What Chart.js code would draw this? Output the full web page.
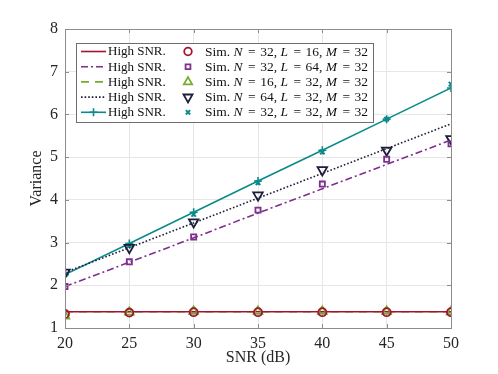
<!DOCTYPE html>
<html>
<head>
<meta charset="utf-8">
<script src="https://cdn.jsdelivr.net/npm/chart.js@4.4.0/dist/chart.umd.min.js"></script>
<style>
html, body { margin: 0; padding: 0; background: #fff; }
#wrap { width: 498px; height: 374px; }
</style>
</head>
<body>
<div id="wrap"><canvas id="chart" width="498" height="374"></canvas></div>
<script>
// eje x y marcas del eje y
const snr = [20, 25, 30, 35, 40, 45, 50];
const yTicks = [1, 2, 3, 4, 5, 6, 7, 8];

// curvas High SNR
const highN32L16 = [1.38, 1.38, 1.38, 1.38, 1.38, 1.38, 1.38];
const highN32L64 = [1.97, 2.54, 3.11, 3.69, 4.26, 4.83, 5.40];
const highN16L32 = [1.38, 1.38, 1.38, 1.38, 1.38, 1.38, 1.38];
const highN64L32 = [2.30, 2.88, 3.46, 4.04, 4.62, 5.20, 5.78];
const highN32L32 = [2.25, 2.98, 3.71, 4.44, 5.16, 5.89, 6.62];

// simulaciones
const simN32L16 = [1.33, 1.36, 1.37, 1.37, 1.37, 1.37, 1.37];
const simN32L64 = [1.97, 2.55, 3.13, 3.76, 4.37, 4.95, 5.31];
const simN16L32 = [1.28, 1.37, 1.39, 1.39, 1.39, 1.39, 1.38];
const simN64L32 = [2.30, 2.88, 3.48, 4.11, 4.70, 5.16, 5.43];
const simN32L32 = [2.25, 2.93, 3.66, 4.40, 5.12, 5.89, 6.71];

// parámetros N, L, M de cada simulación (texto de la leyenda)
const simParams = [[32, 16, 32], [32, 64, 32], [16, 32, 32], [64, 32, 32], [32, 32, 32]];
const highLabel = 'High SNR.';

const RED = '#A2142F', PURPLE = '#7E2F8E', GREEN = '#77AC30', NAVY = '#1E1E3C', TEAL = '#0B8A8A';
const FONT = '"Liberation Serif", "Times New Roman", serif';

function pts(arr) {
    return arr.map((v, i) => ({ x: snr[i], y: v }));
}

function lineDs(data, color, dash, extra) {
    return Object.assign({
        data: pts(data), borderColor: color, backgroundColor: color, borderWidth: 1.6,
        borderDash: dash, pointRadius: 0, tension: 0, fill: false
    }, extra || {});
}

function simDs(data, color, style, radius, rotation, bw) {
    return {
        data: pts(data), showLine: false, borderColor: color, pointBorderColor: color,
        pointBackgroundColor: 'rgba(0,0,0,0)', pointStyle: style, pointRadius: radius,
        pointRotation: rotation, pointBorderWidth: bw
    };
}

const datasets = [
    simDs(simN32L16, RED, 'circle', 4, 0, 1.8),
    simDs(simN32L64, PURPLE, 'rect', 3.6, 0, 1.8),
    simDs(simN16L32, GREEN, 'triangle', 5, 0, 1.8),
    simDs(simN64L32, NAVY, 'triangle', 5.5, 180, 1.8),
    simDs(simN32L32, TEAL, 'crossRot', 3.2, 0, 2),
    lineDs(highN32L16, RED, []),
    lineDs(highN32L64, PURPLE, [7, 3, 2, 3]),
    lineDs(highN16L32, GREEN, [8, 6]),
    lineDs(highN64L32, NAVY, [1.6, 2]),
    lineDs(highN32L32, TEAL, [], { pointStyle: 'cross', pointRadius: 4, pointBorderWidth: 1.6 })
];

// marco de los ejes con marcas hacia dentro
const boxPlugin = {
    id: 'box',
    afterDatasetsDraw(chart) {
        const { ctx, chartArea: a, scales } = chart;
        ctx.save();
        ctx.strokeStyle = '#8c8c8c';
        ctx.lineWidth = 1;
        ctx.setLineDash([]);
        ctx.strokeRect(a.left + 0.5, a.top + 0.5, a.right - a.left, a.bottom - a.top);
        ctx.beginPath();
        snr.forEach(v => {
            const x = Math.round(scales.x.getPixelForValue(v)) + 0.5;
            ctx.moveTo(x, a.bottom); ctx.lineTo(x, a.bottom - 4);
            ctx.moveTo(x, a.top); ctx.lineTo(x, a.top + 4);
        });
        yTicks.forEach(v => {
            const y = Math.round(scales.y.getPixelForValue(v)) + 0.5;
            ctx.moveTo(a.left, y); ctx.lineTo(a.left + 4, y);
            ctx.moveTo(a.right, y); ctx.lineTo(a.right - 4, y);
        });
        ctx.stroke();
        ctx.restore();
    }
};

// leyenda de dos columnas
const legendPlugin = {
    id: 'legend2',
    afterDraw(chart) {
        const ctx = chart.ctx;
        const bx = 76, by = 43, bw = 297, bh = 79;
        ctx.save();
        ctx.fillStyle = '#fff';
        ctx.fillRect(bx, by, bw, bh);
        ctx.strokeStyle = '#6e6e6e';
        ctx.lineWidth = 1;
        ctx.strokeRect(bx + 0.5, by + 0.5, bw, bh);
        ctx.textBaseline = 'middle';
        for (let i = 0; i < 5; i++) {
            const y = 51.5 + i * 15.2;
            const line = chart.data.datasets[5 + i];
            const sim = chart.data.datasets[i];
            // muestra de línea
            ctx.strokeStyle = line.borderColor;
            ctx.lineWidth = line.borderWidth;
            ctx.setLineDash(line.borderDash);
            ctx.beginPath();
            ctx.moveTo(81, y); ctx.lineTo(106, y);
            ctx.stroke();
            ctx.setLineDash([]);
            if (line.pointRadius) {
                ctx.lineWidth = line.pointBorderWidth;
                Chart.helpers.drawPoint(ctx, { pointStyle: line.pointStyle, radius: line.pointRadius, rotation: 0, borderWidth: line.pointBorderWidth }, 93.5, y);
            }
            ctx.fillStyle = '#111';
            ctx.font = '13px ' + FONT;
            ctx.fillText(highLabel, 108, y + 0.5);
            // marcador
            ctx.strokeStyle = sim.pointBorderColor;
            ctx.fillStyle = 'rgba(0,0,0,0)';
            ctx.lineWidth = sim.pointBorderWidth;
            Chart.helpers.drawPoint(ctx, { pointStyle: sim.pointStyle, radius: sim.pointRadius * 0.95, rotation: sim.pointRotation, borderWidth: sim.pointBorderWidth }, 188, y);
            // texto
            const p = simParams[i];
            const eq = ' \u200A=\u200A ';
            const parts = [['Sim. ', false], ['N', true], [eq + p[0] + ', ', false], ['L', true], [eq + p[1] + ', ', false], ['M', true], [eq + p[2], false]];
            let x = 205;
            ctx.fillStyle = '#111';
            parts.forEach(([t, it]) => {
                ctx.font = (it ? 'italic ' : '') + '13.5px ' + FONT;
                ctx.fillText(t, x, y + 0.5);
                x += ctx.measureText(t).width + (it ? 1 : 0);
            });
        }
        ctx.restore();
    }
};

new Chart(document.getElementById('chart'), {
    type: 'line',
    data: { datasets },
    plugins: [boxPlugin, legendPlugin],
    options: {
        responsive: false,
        animation: false,
        layout: { padding: { left: 0, right: 47, top: 29, bottom: 0 } },
        plugins: { legend: { display: false }, tooltip: { enabled: false } },
        scales: {
            x: {
                type: 'linear', min: 20, max: 50,
                afterBuildTicks: s => { s.ticks = snr.map(v => ({ value: v })); },
                afterFit: s => { s.height = 46; },
                grid: { color: '#e6e6e6', drawTicks: false },
                border: { display: false },
                ticks: { color: '#262626', padding: 6, font: { family: FONT, size: 16 } },
                title: { display: true, text: 'SNR (dB)', color: '#262626', padding: { top: 0, bottom: 7 }, font: { family: FONT, size: 16 } }
            },
            y: {
                min: 1, max: 8,
                afterBuildTicks: s => { s.ticks = yTicks.map(v => ({ value: v })); },
                afterFit: s => { s.width = 65; },
                grid: { color: '#e6e6e6', drawTicks: false },
                border: { display: false },
                ticks: { color: '#262626', padding: 7, font: { family: FONT, size: 16 } },
                title: { display: true, text: 'Variance', color: '#262626', padding: { top: 27, bottom: 0 }, font: { family: FONT, size: 16 } }
            }
        }
    }
});
</script>
</body>
</html>
